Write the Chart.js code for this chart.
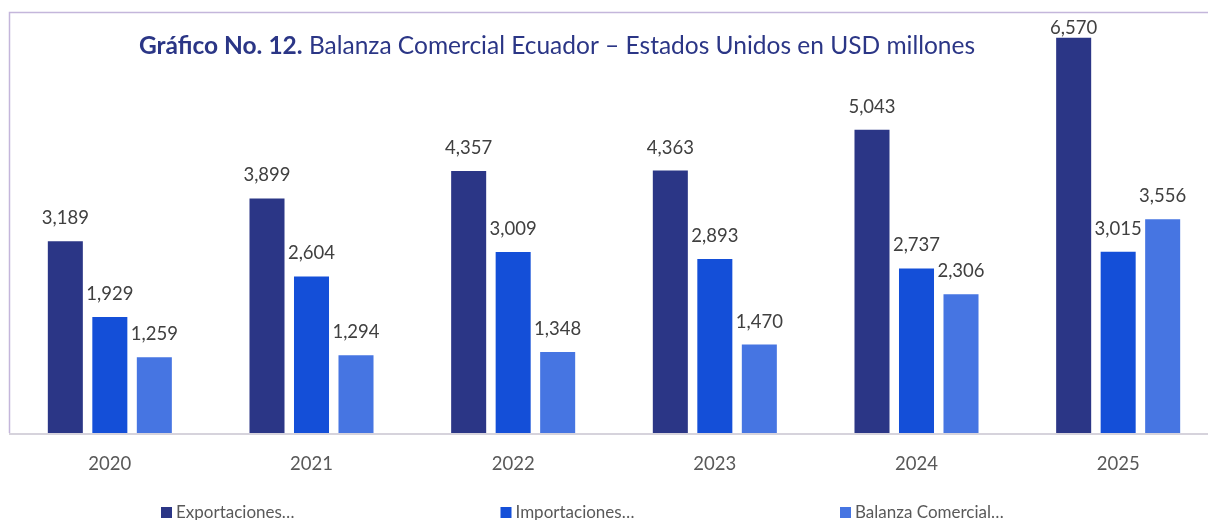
<!DOCTYPE html>
<html>
<head>
<meta charset="utf-8">
<script src="https://cdn.jsdelivr.net/npm/chart.js@4"></script>
<style>
html,body{margin:0;padding:0;background:#fff;overflow:hidden;}
#wrap{position:relative;width:1230px;height:520px;}
</style>
</head>
<body>
<div id="wrap"><canvas id="c" width="1230" height="520"></canvas></div>
<script>
const categories = ["2020","2021","2022","2023","2024","2025"];
const exportaciones = [3189,3899,4357,4363,5043,6570];
const importaciones = [1929,2604,3009,2893,2737,3015];
const balanza = [1259,1294,1348,1470,2306,3556];
const seriesNames = ["Exportaciones…","Importaciones…","Balanza Comercial…"];
const colors = ["#2b3686","#144fd8","#4675e2"];
const titleBold = "Gráfico No. 12.";
const titleRest = " Balanza Comercial Ecuador – Estados Unidos en USD millones";

const FONT = "Lato, 'Open Sans', sans-serif";

const framePlugin = {
  id:'frame',
  beforeDraw(chart){
    const {ctx, chartArea:a} = chart;
    ctx.save();
    ctx.strokeStyle = '#c4b6db';
    ctx.lineWidth = 1.5;
    ctx.beginPath();
    ctx.moveTo(a.left+0.5, a.bottom);
    ctx.lineTo(a.left+0.5, a.top+0.5);
    ctx.lineTo(chart.width, a.top+0.5);
    ctx.stroke();
    ctx.restore();
  },
  afterDraw(chart){
    const {ctx, chartArea:a} = chart;
    ctx.save();
    ctx.strokeStyle = '#d6d3dc';
    ctx.lineWidth = 2;
    ctx.beginPath();
    ctx.moveTo(a.left, a.bottom+1);
    ctx.lineTo(chart.width, a.bottom+1);
    ctx.stroke();
    // title
    ctx.fillStyle = '#2b3686';
    ctx.textBaseline = 'middle';
    const TS = "24.5px ";
    ctx.font = "bold " + TS + FONT;
    const wb = ctx.measureText(titleBold).width;
    ctx.font = TS + FONT;
    const wr = ctx.measureText(titleRest).width;
    const cx = 557;
    let x = cx - (wb+wr)/2;
    ctx.textAlign = 'left';
    ctx.font = "bold " + TS + FONT;
    ctx.fillText(titleBold, x, 46);
    ctx.font = TS + FONT;
    ctx.fillText(titleRest, x+wb, 46);
    // data labels
    ctx.font = "18.5px " + FONT;
    ctx.fillStyle = '#404040';
    ctx.textAlign = 'center';
    chart.data.datasets.forEach((ds,i)=>{
      const meta = chart.getDatasetMeta(i);
      meta.data.forEach((bar,j)=>{
        const v = ds.data[j];
        const y = Math.max(bar.y - 23, 28);
        ctx.fillText(v.toLocaleString('en-US'), bar.x, y);
      });
    });
    // legend
    ctx.font = "17px " + FONT;
    ctx.textAlign = 'left';
    chart.data.datasets.forEach((ds,i)=>{
      const lx = 161 + i*339.5;
      ctx.fillStyle = ds.backgroundColor;
      ctx.fillRect(lx, 507, 11, 11);
      ctx.fillStyle = '#595959';
      ctx.fillText(ds.label, lx+15, 513);
    });
    ctx.restore();
  }
};

new Chart(document.getElementById('c'), {
  type:'bar',
  data:{
    labels: categories,
    datasets:[
      {label:seriesNames[0], data:exportaciones, backgroundColor:colors[0]},
      {label:seriesNames[1], data:importaciones, backgroundColor:colors[1]},
      {label:seriesNames[2], data:balanza, backgroundColor:colors[2]}
    ]
  },
  options:{
    responsive:false,
    animation:false,
    layout:{padding:{left:9,right:11,top:12,bottom:0}},
    datasets:{bar:{categoryPercentage:0.662,barPercentage:0.787}},
    plugins:{legend:{display:false},tooltip:{enabled:false},title:{display:false}},
    scales:{
      x:{
        grid:{display:false,drawTicks:false},
        border:{display:false},
        ticks:{color:'#595959',font:{family:FONT,size:18.5},padding:20},
        afterFit(s){ s.height = 87; }
      },
      y:{display:false,min:0,max:7000}
    }
  },
  plugins:[framePlugin]
});
</script>
</body>
</html>
